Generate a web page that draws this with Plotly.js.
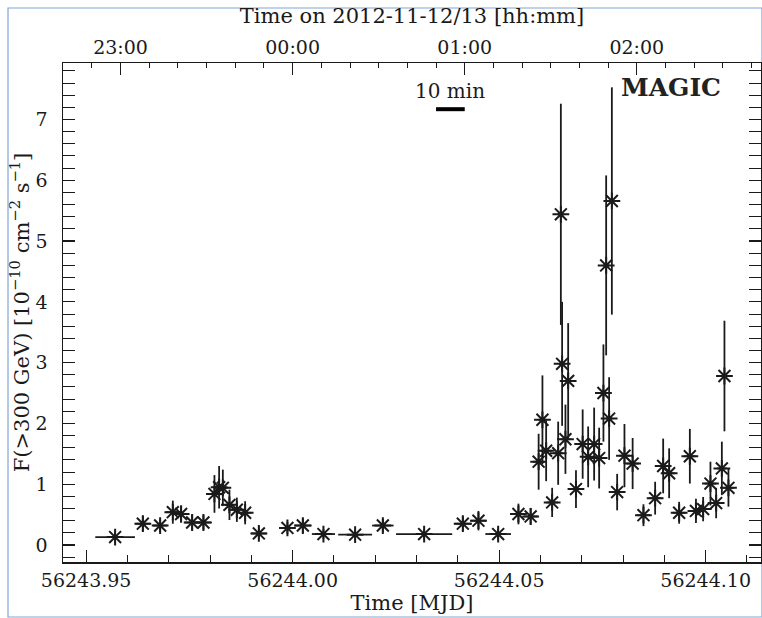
<!DOCTYPE html>
<html>
<head>
<meta charset="utf-8">
<script src="https://cdn.plot.ly/plotly-3.0.1.min.js"></script>
<style>
  html, body { margin: 0; padding: 0; background: #fff; }
  #plot { width: 762px; height: 618px; }
</style>
</head>
<body>
<div id="plot"></div>
<script>
// ---- data ----
const mjd = [
  56243.95702, 56243.96373, 56243.96792, 56243.97099, 56243.97300, 56243.97567,
  56243.97840, 56243.98107, 56243.98220, 56243.98310, 56243.98470, 56243.98649,
  56243.98850, 56243.99182, 56243.99874, 56244.00247, 56244.00746, 56244.01513,
  56244.02184, 56244.03184, 56244.04121, 56244.04499, 56244.04976, 56244.05467,
  56244.05763, 56244.05956, 56244.06048, 56244.06138, 56244.06283, 56244.06429,
  56244.06494, 56244.06525, 56244.06605, 56244.06671, 56244.06860, 56244.07022,
  56244.07155, 56244.07300, 56244.07421, 56244.07525, 56244.07591, 56244.07663,
  56244.07729, 56244.07857, 56244.08034, 56244.08232, 56244.08494, 56244.08777,
  56244.08971, 56244.09116, 56244.09358, 56244.09617, 56244.09765, 56244.09939,
  56244.10116, 56244.10254, 56244.10392, 56244.10455, 56244.10552
];
const mjdErr = [
  0.0048, 0.0018, 0.0017, 0.0017, 0.0017, 0.0018,
  0.0018, 0.0019, 0.0012, 0.0012, 0.0012, 0.0015,
  0.0015, 0.0019, 0.0017, 0.0021, 0.0028, 0.0041,
  0.0026, 0.0068, 0.0022, 0.0019, 0.0031, 0.0019,
  0.0017, 0.0014, 0.0010, 0.0014, 0.0014, 0.0012,
  0.0008, 0.0008, 0.0012, 0.0010, 0.0015, 0.0012,
  0.0012, 0.0012, 0.0012, 0.0008, 0.0008, 0.0008,
  0.0008, 0.0013, 0.0013, 0.0015, 0.0016, 0.0016,
  0.0014, 0.0014, 0.0016, 0.0014, 0.0014, 0.0014,
  0.0014, 0.0014, 0.0012, 0.0008, 0.0014
];
const flux = [
  0.13, 0.35, 0.32, 0.54, 0.51, 0.37,
  0.37, 0.84, 0.95, 0.94, 0.66, 0.58,
  0.53, 0.19, 0.28, 0.32, 0.18, 0.17,
  0.32, 0.18, 0.35, 0.40, 0.18, 0.51,
  0.47, 1.37, 2.06, 1.55, 0.70, 1.51,
  5.44, 2.98, 1.74, 2.70, 0.92, 1.66,
  1.45, 1.66, 1.43, 2.50, 4.60, 2.08,
  5.66, 0.87, 1.47, 1.34, 0.49, 0.77,
  1.30, 1.18, 0.53, 1.46, 0.56, 0.59,
  1.01, 0.69, 1.26, 2.78, 0.94
];
const fluxErr = [
  0.09, 0.13, 0.10, 0.19, 0.14, 0.13,
  0.12, 0.31, 0.35, 0.30, 0.25, 0.20,
  0.19, 0.10, 0.10, 0.12, 0.08, 0.08,
  0.11, 0.08, 0.12, 0.16, 0.09, 0.17,
  0.14, 0.46, 0.73, 0.50, 0.24, 0.52,
  1.82, 1.02, 0.57, 0.95, 0.31, 0.57,
  0.50, 0.60, 0.50, 0.80, 1.48, 0.68,
  1.87, 0.30, 0.52, 0.42, 0.18, 0.27,
  0.45, 0.41, 0.18, 0.45, 0.20, 0.20,
  0.36, 0.25, 0.44, 0.91, 0.31
];
// top axis: clock time (UTC) on 2012-11-12/13
const hourTicks = [56243.958333, 56244.0, 56244.041667, 56244.083333];
const hourLabels = ['23:00', '00:00', '01:00', '02:00'];
// 10-minute scale bar
const scaleBarStart = 56244.03472;
const scaleBarEnd = 56244.04167;
const scaleBarFlux = 7.17;

const xRange = [56243.9444, 56244.1134];
const yRange = [-0.28, 7.93];
const FONT = 'DejaVu Serif, Liberation Serif, serif';
const INK = '#1a1a1a';

const traces = [
  {
    type: 'scatter', mode: 'markers',
    x: mjd, y: flux,
    error_x: { type: 'data', array: mjdErr, visible: true, color: INK, thickness: 1.8, width: 0 },
    error_y: { type: 'data', array: fluxErr, visible: true, color: INK, thickness: 1.8, width: 0 },
    marker: { symbol: 'asterisk-open', size: 14, color: INK, line: { color: INK, width: 2 } },
    showlegend: false, hoverinfo: 'x+y'
  },
  { type: 'scatter', mode: 'markers', x: [], y: [], xaxis: 'x2', yaxis: 'y', showlegend: false }
];

const layout = {
  width: 762, height: 618,
  margin: { l: 63, r: 1, t: 63, b: 56, pad: 0 },
  paper_bgcolor: '#ffffff', plot_bgcolor: '#ffffff',
  font: { family: FONT, size: 19, color: INK },
  showlegend: false,
  xaxis: {
    range: xRange, showgrid: false, zeroline: false,
    showline: true, linecolor: INK, linewidth: 1.5, mirror: true,
    ticks: 'inside', ticklen: 12, tickwidth: 1.2, tickcolor: INK,
    tick0: 56243.95, dtick: 0.05, tickformat: '.2f',
    minor: { dtick: 0.01, tick0: 56243.95, ticks: 'inside', ticklen: 7, tickwidth: 1, tickcolor: INK },
    tickfont: { family: FONT, size: 19, color: INK },
    ticklabelstandoff: 1,
    title: { text: 'Time [MJD]', font: { family: FONT, size: 21, color: INK }, standoff: 4 }
  },
  xaxis2: {
    range: xRange, overlaying: 'x', anchor: 'y', side: 'top',
    showgrid: false, zeroline: false, showline: true, linecolor: INK, linewidth: 1.5,
    ticks: 'inside', ticklen: 12, tickwidth: 1.2, tickcolor: INK,
    tickmode: 'array', tickvals: hourTicks, ticktext: hourLabels,
    minor: { tick0: 56244.0, dtick: 1 / 144, ticks: 'inside', ticklen: 5, tickwidth: 1, tickcolor: INK },
    tickfont: { family: FONT, size: 19, color: INK },
    ticklabelstandoff: 0,
    title: { text: 'Time on 2012-11-12/13 [hh:mm]', font: { family: FONT, size: 21, color: INK }, standoff: 6 }
  },
  yaxis: {
    range: yRange, showgrid: false, zeroline: false,
    showline: true, linecolor: INK, linewidth: 1.5, mirror: 'allticks',
    ticks: 'inside', ticklen: 12, tickwidth: 1.2, tickcolor: INK,
    tick0: 0, dtick: 1,
    minor: { dtick: 0.2, tick0: 0, ticks: 'inside', ticklen: 7, tickwidth: 1, tickcolor: INK },
    tickfont: { family: FONT, size: 19, color: INK },
    ticklabelstandoff: 10,
    title: { text: 'F(>300 GeV) [10<sup>−10</sup> cm<sup>−2</sup> s<sup>−1</sup>]', font: { family: FONT, size: 21, color: INK }, standoff: 0 }
  },
  shapes: [
    { type: 'line', xref: 'x', yref: 'y', x0: scaleBarStart, x1: scaleBarEnd, y0: scaleBarFlux, y1: scaleBarFlux,
      line: { color: '#000', width: 4 } },
    { type: 'rect', xref: 'paper', yref: 'paper',
      x0: (8 - 63) / 698, x1: (762 - 63) / 698, y0: (562 - 617) / 499, y1: (562 - 8) / 499,
      line: { color: '#7ea6d6', width: 1.2 }, fillcolor: 'rgba(0,0,0,0)', layer: 'below' }
  ],
  annotations: [
    { xref: 'x', yref: 'y', x: (scaleBarStart + scaleBarEnd) / 2, y: 7.47, text: '10 min', showarrow: false,
      font: { family: FONT, size: 20, color: INK }, xanchor: 'center', yanchor: 'middle' },
    { xref: 'paper', yref: 'paper', x: 0.9456, y: 0.95, text: '<b>MAGIC</b>', showarrow: false,
      font: { family: FONT, size: 25, color: '#222' }, xanchor: 'right', yanchor: 'middle' }
  ]
};

Plotly.newPlot('plot', traces, layout, { displayModeBar: false, staticPlot: true });
</script>
</body>
</html>
